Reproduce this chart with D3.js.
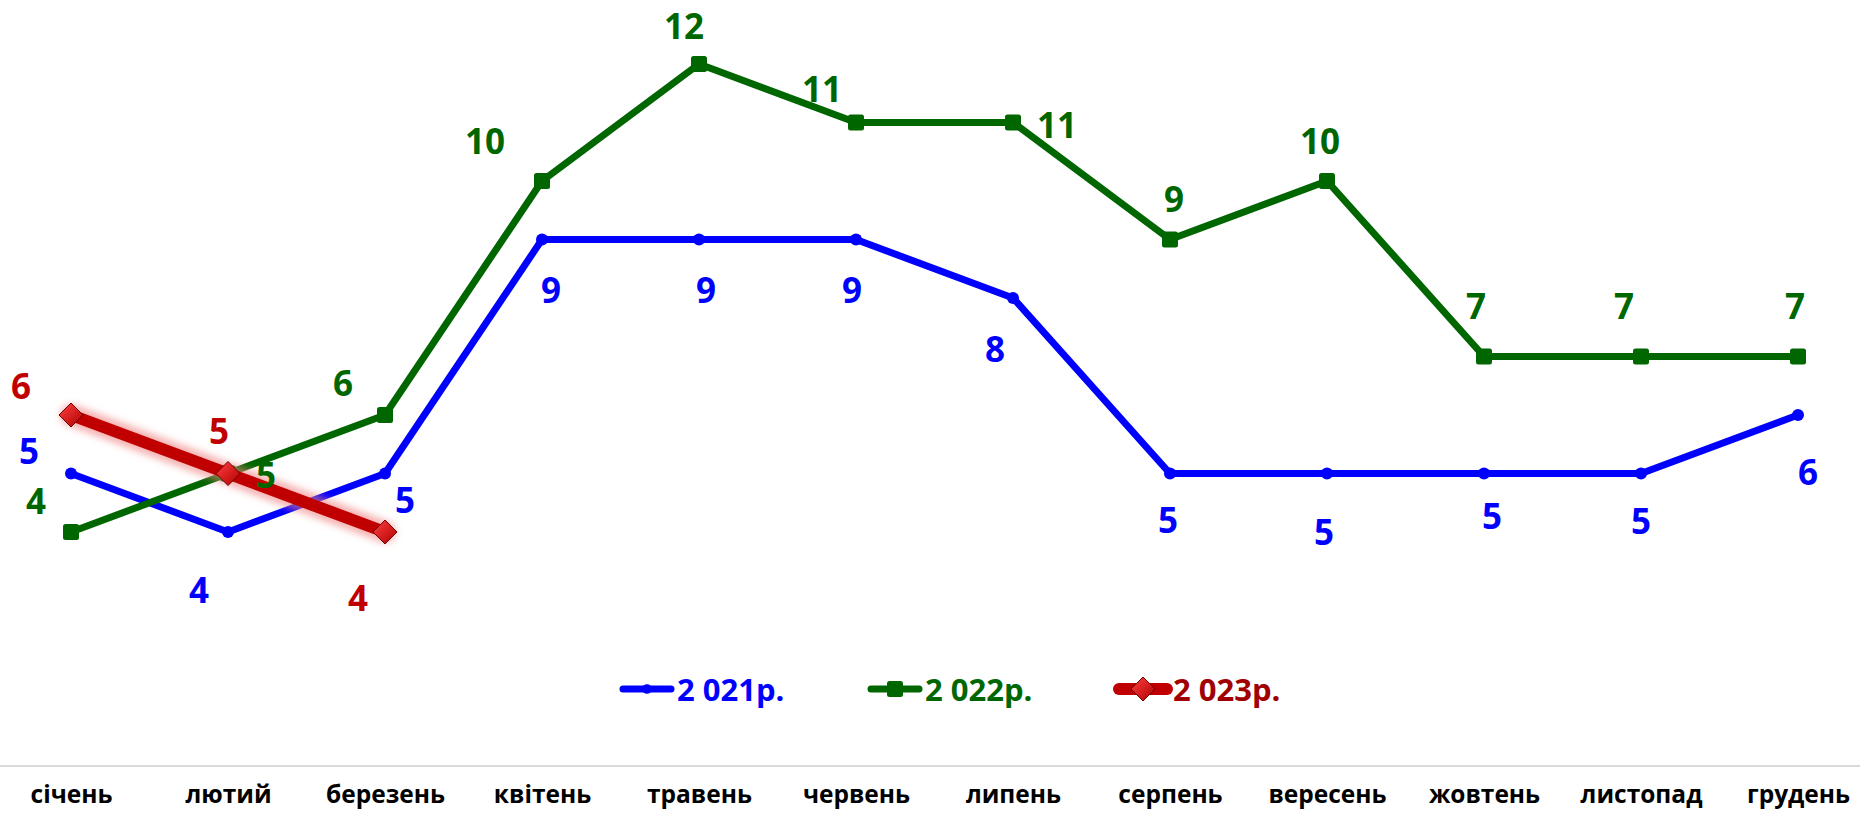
<!DOCTYPE html>
<html><head><meta charset="utf-8">
<script src="https://cdn.jsdelivr.net/npm/d3@7"></script>
<style>html,body{margin:0;padding:0;background:#fff;overflow:hidden}</style>
</head><body>
<svg id="chart" width="1860" height="817"></svg>
<script>
// ---- data ----
const months = ["січень","лютий","березень","квітень","травень","червень","липень","серпень","вересень","жовтень","листопад","грудень"];
const seriesNames = ["2 021р.","2 022р.","2 023р."];
const values2021 = [5,4,5,9,9,9,8,5,5,5,5,6];
const values2022 = [4,5,6,10,12,11,11,9,10,7,7,7];
const values2023 = [6,5,4];
// label placement offsets (dx, dy) relative to each point
const labelOff2021 = [[-42,-23],[-29,57],[20,26],[9,50],[7,50],[-4,50],[-18,50],[-2,46],[-3,58],[8,42],[0,47],[10,56]];
const labelOff2022 = [[-35,-32],[38,1],[-42,-33],[-57,-41],[-15,-39],[-34,-34],[44,2],[4,-41],[-7,-41],[-8,-51],[-17,-51],[-3,-51]];
const labelOff2023 = [[-50,-30],[-9,-43],[-27,65]];

const svg = d3.select("#chart");
const x = d3.scalePoint().domain(months).range([71, 1798]);
const y = d3.scaleLinear().domain([0, 12]).range([766, 64]);

const defs = svg.append("defs");
const glow = defs.append("filter").attr("id","glow").attr("x","-20%").attr("y","-50%").attr("width","140%").attr("height","200%");
glow.append("feGaussianBlur").attr("stdDeviation", 3.5);
const grad = defs.append("linearGradient").attr("id","dgrad").attr("x1","0").attr("y1","0").attr("x2","1").attr("y2","1");
grad.append("stop").attr("offset","0%").attr("stop-color","#ff4040");
grad.append("stop").attr("offset","100%").attr("stop-color","#b00000");

// x axis line + labels
const xAxis = d3.axisBottom(x).tickSize(0).tickPadding(28);
const gx = svg.append("g").attr("transform","translate(0,766)").call(xAxis);
gx.select(".domain").remove();
svg.append("line").attr("x1",0).attr("x2",1860).attr("y1",y(0)).attr("y2",y(0))
  .attr("stroke","#d9d9d9").attr("stroke-width",2);
gx.selectAll(".tick text").attr("font-family","'Open Sans', sans-serif").attr("font-weight","bold")
  .attr("font-size",24.5).attr("fill","#000").attr("dy","0.35em");

const series = [
  {name: seriesNames[0], vals: values2021, off: labelOff2021, color: "#0000ff", text: "#0000ff", lt: "#0000ff", width: 7, marker: "circle"},
  {name: seriesNames[1], vals: values2022, off: labelOff2022, color: "#006600", text: "#006600", lt: "#006600", width: 7, marker: "square"},
  {name: seriesNames[2], vals: values2023, off: labelOff2023, color: "#c00000", text: "#c00000", lt: "#a00000", width: 12, marker: "diamond"}
];

const line = d3.line().x((d,i)=>x(months[i])).y(d=>y(d));

function drawMarker(g, m, cx, cy, scale) {
  if (m === "circle") {
    g.append("circle").attr("cx",cx).attr("cy",cy).attr("r",6*scale).attr("fill","#0000ff");
  } else if (m === "square") {
    g.append("rect").attr("x",cx-8*scale).attr("y",cy-8*scale).attr("width",16*scale).attr("height",16*scale)
      .attr("rx",2.5).attr("fill","#006600");
  } else {
    const s = 12*scale;
    g.append("path").attr("d",`M${cx},${cy-s}L${cx+s},${cy}L${cx},${cy+s}L${cx-s},${cy}Z`)
      .attr("fill","url(#dgrad)").attr("stroke","#700000").attr("stroke-width",1);
  }
}

series.forEach(s => {
  const g = svg.append("g");
  if (s.marker === "diamond") {
    g.append("path").datum(s.vals).attr("d",line).attr("fill","none")
      .attr("stroke","#f08080").attr("stroke-opacity",0.6).attr("stroke-width",s.width+10)
      .attr("stroke-linejoin","round").attr("stroke-linecap","round").attr("filter","url(#glow)");
  }
  g.append("path").datum(s.vals).attr("d",line).attr("fill","none")
    .attr("stroke",s.color).attr("stroke-width",s.width).attr("stroke-linejoin","round").attr("stroke-linecap","round");
  s.vals.forEach((v,i) => drawMarker(g, s.marker, x(months[i]), y(v), 1));
});

// data labels
series.forEach(s => {
  svg.append("g").selectAll("text").data(s.vals).join("text")
    .attr("x",(d,i)=>x(months[i]) + s.off[i][0])
    .attr("y",(d,i)=>y(d) + s.off[i][1])
    .attr("text-anchor","middle").attr("dominant-baseline","central")
    .attr("font-family","'Open Sans', sans-serif").attr("font-weight","bold").attr("font-size",35)
    .attr("fill",s.text).text(d=>d);
});

// legend
const legendX = [619, 867, 1115];
series.forEach((s,i) => {
  const g = svg.append("g");
  const lx = legendX[i], ly = 689;
  g.append("line").attr("x1",lx+4).attr("x2",lx+52).attr("y1",ly).attr("y2",ly)
    .attr("stroke",s.color).attr("stroke-width",s.marker==="diamond"?12:7).attr("stroke-linecap","round");
  drawMarker(g, s.marker, lx+28, ly, s.marker==="circle"?0.8:1);
  g.append("text").attr("x",lx+58).attr("y",ly).attr("dominant-baseline","central")
    .attr("font-family","'Open Sans', sans-serif").attr("font-weight","bold").attr("font-size",31)
    .attr("fill",s.lt).text(s.name);
});
</script>
</body></html>
